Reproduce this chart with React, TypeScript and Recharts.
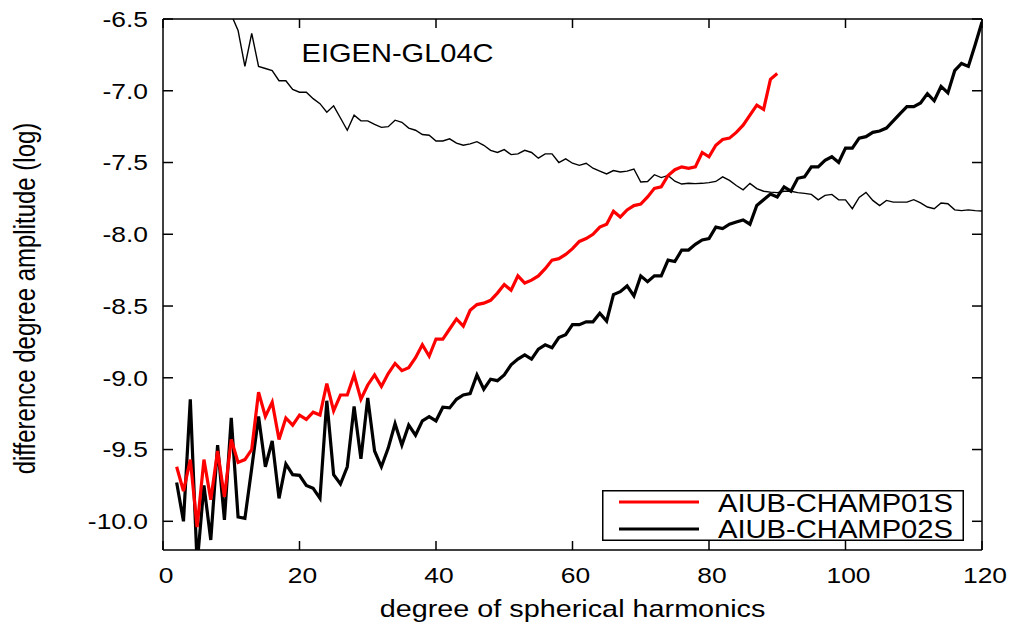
import React from "react";
import { LineChart, Line, XAxis, YAxis, Legend, ReferenceDot } from "recharts";

// degree of spherical harmonics starting values for each series
const CHAMP01S_START = 2;
const CHAMP02S_START = 2;
const EIGEN_START = 9;

const champ01S = [
  -9.62, -9.79, -9.57, -10.04, -9.57, -9.85, -9.51, -9.83, -9.43, -9.59,
  -9.57, -9.5, -9.1, -9.27, -9.17, -9.43, -9.28, -9.33, -9.26, -9.29,
  -9.24, -9.26, -9.04, -9.23, -9.12, -9.12, -8.98, -9.15, -9.05, -8.98,
  -9.06, -8.97, -8.9, -8.95, -8.93, -8.86, -8.77, -8.85, -8.73, -8.73,
  -8.66, -8.59, -8.64, -8.53, -8.49, -8.48, -8.46, -8.41, -8.35, -8.39,
  -8.29, -8.34, -8.32, -8.29, -8.24, -8.18, -8.17, -8.14, -8.1, -8.05,
  -8.03, -8.0, -7.95, -7.93, -7.84, -7.88, -7.83, -7.8, -7.79, -7.74,
  -7.68, -7.67, -7.59, -7.55, -7.53, -7.54, -7.53, -7.43, -7.46, -7.38,
  -7.34, -7.33, -7.29, -7.24, -7.17, -7.1, -7.13, -6.92, -6.88,
];

const champ02S = [
  -9.73, -10.0, -9.15, -10.3, -9.75, -10.13, -9.47, -9.99, -9.28, -9.97,
  -9.98, -9.63, -9.27, -9.62, -9.44, -9.84, -9.6, -9.675, -9.68, -9.75,
  -9.77, -9.84, -9.16, -9.675, -9.74, -9.62, -9.2, -9.565, -9.14, -9.51,
  -9.62, -9.49, -9.32, -9.47, -9.33, -9.4, -9.3, -9.27, -9.3, -9.205,
  -9.21, -9.15, -9.12, -9.11, -8.98, -9.08, -9.01, -9.02, -8.98, -8.91,
  -8.87, -8.84, -8.87, -8.8, -8.77, -8.79, -8.72, -8.7, -8.63, -8.63,
  -8.61, -8.61, -8.55, -8.605, -8.42, -8.4, -8.36, -8.43, -8.29, -8.33,
  -8.29, -8.29, -8.18, -8.19, -8.11, -8.11, -8.07, -8.04, -8.03, -7.95,
  -7.96, -7.93, -7.915, -7.9, -7.93, -7.8, -7.76, -7.72, -7.74, -7.67,
  -7.7, -7.61, -7.6, -7.53, -7.53, -7.485, -7.46, -7.5, -7.4, -7.4,
  -7.33, -7.32, -7.29, -7.28, -7.26, -7.21, -7.16, -7.11, -7.11, -7.085,
  -7.02, -7.07, -6.97, -7.015, -6.86, -6.81, -6.83, -6.68, -6.52,
];

const eigenGL04C = [
  -6.38, -6.47, -6.58, -6.83, -6.6, -6.83, -6.845, -6.86, -6.93, -6.93,
  -6.99, -7.01, -7.01, -7.055, -7.09, -7.15, -7.105, -7.19, -7.275, -7.17,
  -7.21, -7.21, -7.235, -7.255, -7.25, -7.205, -7.22, -7.26, -7.275, -7.305,
  -7.31, -7.35, -7.35, -7.335, -7.365, -7.38, -7.37, -7.355, -7.38, -7.415,
  -7.43, -7.41, -7.445, -7.44, -7.415, -7.43, -7.47, -7.44, -7.44, -7.5,
  -7.475, -7.505, -7.52, -7.505, -7.54, -7.56, -7.58, -7.556, -7.566, -7.56,
  -7.545, -7.636, -7.632, -7.585, -7.605, -7.59, -7.63, -7.65, -7.645, -7.647,
  -7.645, -7.64, -7.632, -7.6, -7.625, -7.66, -7.69, -7.645, -7.682, -7.7,
  -7.706, -7.71, -7.7, -7.7, -7.71, -7.715, -7.722, -7.76, -7.729, -7.722,
  -7.76, -7.76, -7.822, -7.743, -7.708, -7.764, -7.8, -7.764, -7.776, -7.776,
  -7.776, -7.759, -7.782, -7.81, -7.822, -7.782, -7.787, -7.83, -7.835, -7.83,
  -7.835, -7.838,
];

const xTicks = [0, 20, 40, 60, 80, 100, 120];
const yTicks = [-10.0, -9.5, -9.0, -8.5, -8.0, -7.5, -7.0, -6.5];
const xDomain = [0, 120];
const yDomain = [-10.2, -6.5];

const SERIES_01 = "AIUB-CHAMP01S";
const SERIES_02 = "AIUB-CHAMP02S";
const ANNOTATION = "EIGEN-GL04C";
const ANNOTATION_X = 20.3;
const ANNOTATION_Y = -6.8;

const FONT = '"Liberation Sans", Arial, Helvetica, sans-serif';
const SX = 1.2;

// layout (styling) constants
const CHART_W = 1014;
const CHART_H = 631;
const M_TOP = 19;
const M_RIGHT = 31;
const LEFT_AXIS_W = 163;
const RIGHT_AXIS_W = 1;
const BOTTOM_AXIS_H = 81;
const PLOT_W = CHART_W - M_RIGHT - RIGHT_AXIS_W - LEFT_AXIS_W;
const LEGEND_X = 602;
const LEGEND_Y = 490;

const firstDegree = Math.min(CHAMP01S_START, CHAMP02S_START, EIGEN_START);
const lastDegree = Math.max(
  CHAMP01S_START + champ01S.length - 1,
  CHAMP02S_START + champ02S.length - 1,
  EIGEN_START + eigenGL04C.length - 1
);
const data: any[] = [];
for (let n = firstDegree; n <= lastDegree; n++) {
  const a = champ01S[n - CHAMP01S_START];
  const b = champ02S[n - CHAMP02S_START];
  const c = eigenGL04C[n - EIGEN_START];
  data.push({
    n,
    c01: a === undefined ? null : a,
    c02: b === undefined ? null : b,
    eigen: c === undefined ? null : c,
  });
}

const LeftTick = (p: any) => {
  const { x, y, payload } = p;
  return (
    <g>
      <line x1={x} y1={y} x2={x + 10} y2={y} stroke="#000" strokeWidth={1.5} />
      <text
        transform={`translate(${x - 15},${y}) scale(${SX},1)`}
        textAnchor="end"
        dy="0.36em"
        fontSize={22}
        fontFamily={FONT}
        fill="#000"
      >
        {Number(payload.value).toFixed(1)}
      </text>
    </g>
  );
};

const RightTick = (p: any) => {
  const { x, y } = p;
  return <line x1={x} y1={y} x2={x - 10} y2={y} stroke="#000" strokeWidth={1.5} />;
};

const BottomTick = (p: any) => {
  const { x, y, payload } = p;
  return (
    <g>
      <line x1={x} y1={y} x2={x} y2={y - 9} stroke="#000" strokeWidth={1.5} />
      <text
        transform={`translate(${x + 3},${y + 33}) scale(${SX},1)`}
        textAnchor="middle"
        fontSize={22}
        fontFamily={FONT}
        fill="#000"
      >
        {payload.value}
      </text>
    </g>
  );
};

const XTitle = (p: any) => {
  const vb = p.viewBox || {};
  const cx = vb.x + vb.width / 2;
  return (
    <text
      transform={`translate(${cx},${vb.y + 67}) scale(${SX},1)`}
      textAnchor="middle"
      fontSize={24}
      fontFamily={FONT}
      fill="#000"
    >
      degree of spherical harmonics
    </text>
  );
};

const YTitle = (p: any) => {
  const vb = p.viewBox || {};
  const cy = vb.y + vb.height / 2 + 14;
  return (
    <text
      transform={`translate(${vb.x + 35},${cy}) scale(${SX},1) rotate(-90)`}
      textAnchor="middle"
      fontSize={24}
      fontFamily={FONT}
      fill="#000"
    >
      difference degree amplitude (log)
    </text>
  );
};

// overlay: legend box plus the top edge of the frame with its inward ticks
const LegendOverlay = () => {
  const topTickX = (t: number) =>
    LEFT_AXIS_W + ((t - xDomain[0]) / (xDomain[1] - xDomain[0])) * PLOT_W;
  return (
    <svg width={CHART_W} height={CHART_H} style={{ display: "block", overflow: "visible", pointerEvents: "none" }}>
      <line x1={LEFT_AXIS_W} y1={M_TOP} x2={LEFT_AXIS_W + PLOT_W} y2={M_TOP} stroke="#000" strokeWidth={1.5} />
      {xTicks.map((t) => (
        <line key={t} x1={topTickX(t)} y1={M_TOP} x2={topTickX(t)} y2={M_TOP + 9} stroke="#000" strokeWidth={1.5} />
      ))}
      <g transform={`translate(${LEGEND_X},${LEGEND_Y})`}>
        <rect x={0.75} y={0.75} width={360.5} height={49.5} fill="#fff" stroke="#000" strokeWidth={1.5} />
        <line x1={17} y1={12} x2={97} y2={12} stroke="#ff0000" strokeWidth={3.2} />
        <line x1={17} y1={39} x2={97} y2={39} stroke="#000" strokeWidth={3.2} />
        <text x={116} y={21.5} textLength={235} lengthAdjust="spacingAndGlyphs" fontSize={25} fontFamily={FONT} fill="#000">
          {SERIES_01}
        </text>
        <text x={116} y={48} textLength={235} lengthAdjust="spacingAndGlyphs" fontSize={25} fontFamily={FONT} fill="#000">
          {SERIES_02}
        </text>
      </g>
    </svg>
  );
};

const Annotation = (p: any) => (
  <text
    x={p.cx}
    y={p.cy}
    textLength={192}
    lengthAdjust="spacingAndGlyphs"
    fontSize={25}
    fontFamily={FONT}
    fill="#000"
  >
    {ANNOTATION}
  </text>
);

export default function App() {
  return (
    <div style={{ position: "absolute", left: 0, top: 0, width: CHART_W, height: CHART_H, background: "#fff" }}>
      <LineChart
        width={CHART_W}
        height={CHART_H}
        data={data}
        margin={{ top: M_TOP, right: M_RIGHT, bottom: 0, left: 0 }}
      >
        <XAxis
          dataKey="n"
          type="number"
          domain={xDomain}
          ticks={xTicks}
          allowDataOverflow
          height={BOTTOM_AXIS_H}
          tickSize={0}
          tickMargin={0}
          tickLine={false}
          axisLine={{ stroke: "#000", strokeWidth: 1.5 }}
          tick={<BottomTick />}
          label={<XTitle />}
        />
        <YAxis
          type="number"
          domain={yDomain}
          ticks={yTicks}
          allowDataOverflow
          width={LEFT_AXIS_W}
          tickSize={0}
          tickMargin={0}
          tickLine={false}
          axisLine={{ stroke: "#000", strokeWidth: 1.5 }}
          tick={<LeftTick />}
          label={<YTitle />}
        />
        <YAxis
          yAxisId="right"
          orientation="right"
          type="number"
          domain={yDomain}
          ticks={yTicks}
          allowDataOverflow
          width={RIGHT_AXIS_W}
          tickSize={0}
          tickMargin={0}
          tickLine={false}
          axisLine={{ stroke: "#000", strokeWidth: 1.5 }}
          tick={<RightTick />}
        />
        <Line
          yAxisId="right"
          dataKey="eigen"
          type="linear"
          stroke="none"
          strokeWidth={0}
          dot={false}
          activeDot={false}
          isAnimationActive={false}
          legendType="none"
        />
        <Line
          dataKey="eigen"
          type="linear"
          stroke="#000"
          strokeWidth={1.4}
          dot={false}
          activeDot={false}
          isAnimationActive={false}
          legendType="none"
        />
        <Line
          dataKey="c02"
          name={SERIES_02}
          type="linear"
          stroke="#000"
          strokeWidth={3.2}
          dot={false}
          activeDot={false}
          isAnimationActive={false}
        />
        <Line
          dataKey="c01"
          name={SERIES_01}
          type="linear"
          stroke="#ff0000"
          strokeWidth={3.2}
          dot={false}
          activeDot={false}
          isAnimationActive={false}
        />
        <ReferenceDot x={ANNOTATION_X} y={ANNOTATION_Y} r={0} shape={<Annotation />} />
        <Legend
          layout="vertical"
          align="center"
          verticalAlign="middle"
          wrapperStyle={{ position: "absolute", left: 0, top: 0, width: CHART_W, height: CHART_H, pointerEvents: "none" }}
          content={<LegendOverlay />}
        />
      </LineChart>
    </div>
  );
}
